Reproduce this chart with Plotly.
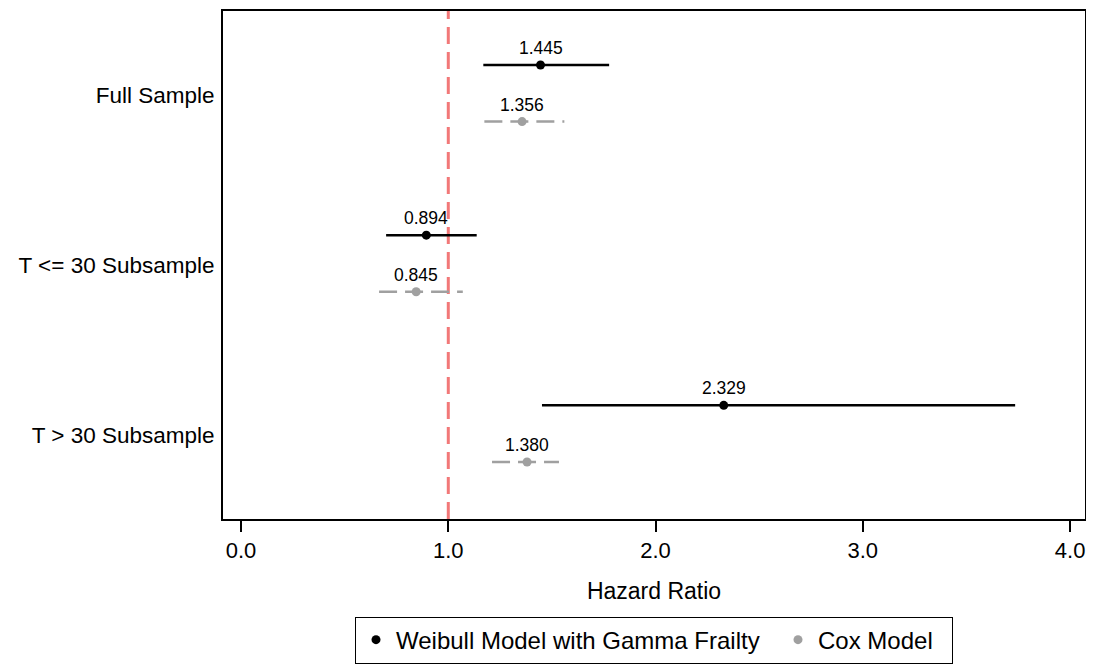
import plotly.graph_objects as go

categories = ["Full Sample", "T <= 30 Subsample", "T > 30 Subsample"]
weibull_hr = [1.445, 0.894, 2.329]
weibull_lo = [1.169, 0.700, 1.452]
weibull_hi = [1.776, 1.137, 3.735]
cox_hr = [1.356, 0.845, 1.380]
cox_lo = [1.174, 0.666, 1.211]
cox_hi = [1.560, 1.070, 1.534]
x_ticks = [0, 1, 2, 3, 4]
x_ticktext = ["0.0", "1.0", "2.0", "3.0", "4.0"]
ref_value = 1.0

FONT = "Arial, Liberation Sans, sans-serif"
W_OFF = -0.178
C_OFF = 0.155
BLACK = "#000000"
GRAY = "#a0a0a0"

idx = list(range(len(categories)))
yw = [i + W_OFF for i in idx]
yc = [i + C_OFF for i in idx]


def seg(lo, hi, ys):
    xs, yy = [], []
    for a, b, y in zip(lo, hi, ys):
        xs += [a, b, None]
        yy += [y, y, None]
    return xs, yy


fig = go.Figure()

# reference line
fig.add_shape(type="line", xref="x", yref="paper", x0=ref_value, x1=ref_value, y0=0, y1=1,
              line=dict(color="#f27878", width=3, dash="17px,8px"), layer="below")

xs, ys = seg(weibull_lo, weibull_hi, yw)
fig.add_trace(go.Scatter(x=xs, y=ys, mode="lines", line=dict(color=BLACK, width=2.5),
                         showlegend=False, hoverinfo="skip"))
xs, ys = seg(cox_lo, cox_hi, yc)
fig.add_trace(go.Scatter(x=xs, y=ys, mode="lines", line=dict(color=GRAY, width=2.5, dash="18px,8px"),
                         showlegend=False, hoverinfo="skip"))

fig.add_trace(go.Scatter(x=weibull_hr, y=yw, mode="markers",
                         name="Weibull Model with Gamma Frailty\u00a0\u00a0",
                         marker=dict(color=BLACK, size=9)))
fig.add_trace(go.Scatter(x=cox_hr, y=yc, mode="markers", name="Cox Model\u00a0\u00a0",
                         marker=dict(color=GRAY, size=9)))

for xv, yv in zip(weibull_hr, yw):
    fig.add_annotation(x=xv, y=yv, text=f"{xv:.3f}", showarrow=False, yshift=17,
                       font=dict(family=FONT, size=17.5, color=BLACK))
for xv, yv in zip(cox_hr, yc):
    fig.add_annotation(x=xv, y=yv, text=f"{xv:.3f}", showarrow=False, yshift=17,
                       font=dict(family=FONT, size=17.5, color=BLACK))

# page has an 8px body margin, so the figure is offset by 8px
fig.update_layout(
    width=1086, height=660,
    margin=dict(l=215, r=9, t=1, b=149),
    paper_bgcolor="white", plot_bgcolor="white",
    font=dict(family=FONT, color=BLACK),
    xaxis=dict(range=[-0.087, 4.072], tickvals=x_ticks, ticktext=x_ticktext,
               ticks="outside", ticklen=11, tickwidth=2, tickcolor=BLACK,
               showline=True, linecolor=BLACK, linewidth=2, mirror=True,
               showgrid=False, zeroline=False, tickfont=dict(size=22),
               title=dict(text="Hazard Ratio", font=dict(size=23), standoff=20)),
    yaxis=dict(range=[2.49, -0.495], tickvals=idx, ticktext=categories,
               ticks="", showline=True, linecolor=BLACK, linewidth=2, mirror=True,
               showgrid=False, zeroline=False, tickfont=dict(size=22.5), ticklabelstandoff=2),
    legend=dict(orientation="h", x=0.5, xanchor="center", y=-0.192, yanchor="top",
                bordercolor=BLACK, borderwidth=1, font=dict(size=24)),
)

fig.write_html("out.html")
